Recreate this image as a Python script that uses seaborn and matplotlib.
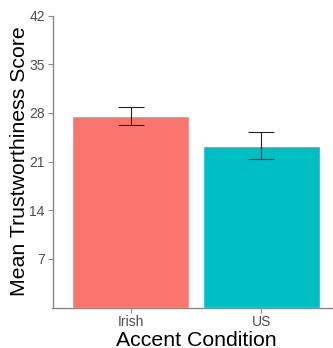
import matplotlib
matplotlib.use("Agg")
import matplotlib.pyplot as plt
import seaborn as sns
import pandas as pd
import numpy as np

categories = ["Irish", "US"]
means = [27.5, 23.3]
err_low = [26.2, 21.4]
err_high = [28.8, 25.2]
colors = ["#F8766D", "#00BFC4"]
y_ticks = [7, 14, 21, 28, 35, 42]

sns.set_theme(style="white")
plt.rcParams['font.family'] = ['Liberation Sans', 'DejaVu Sans']

df = pd.DataFrame({"cond": categories, "score": means})

fig = plt.figure(figsize=(3.33, 3.48), dpi=100)
ax = fig.add_axes([52.5/333, (348-307.5)/348, (339.5-52.5)/333, (307.5-15.5)/348])

sns.barplot(data=df, x="cond", y="score", hue="cond", palette=colors,
            width=0.9, errorbar=None, legend=False, ax=ax, saturation=1)

yerr = np.array([np.array(means) - np.array(err_low), np.array(err_high) - np.array(means)])
ax.errorbar(np.arange(len(categories)), means, yerr=yerr, fmt="none",
            ecolor="#222222", elinewidth=0.8, capsize=9.2, capthick=0.8, zorder=5)

ax.set_xlim(-0.6, 1.6)
ax.set_ylim(0, 42)
ax.set_yticks(y_ticks)
ax.set_yticklabels([str(t) for t in y_ticks])

for s in ["top", "right"]:
    ax.spines[s].set_visible(False)
for s in ["left", "bottom"]:
    ax.spines[s].set_color("#888888")
    ax.spines[s].set_linewidth(1.0)

ax.tick_params(axis="both", which="both", length=3.5, width=0.8, color="#888888",
               labelsize=10, labelcolor="#4D4D4D", pad=2, left=True, bottom=True)

ax.set_xlabel("Accent Condition", fontsize=15.3, color="black", labelpad=1)
ax.set_ylabel("Mean Trustworthiness Score", fontsize=15.3, color="black", labelpad=0)

fig.savefig("out.png", dpi=100)
